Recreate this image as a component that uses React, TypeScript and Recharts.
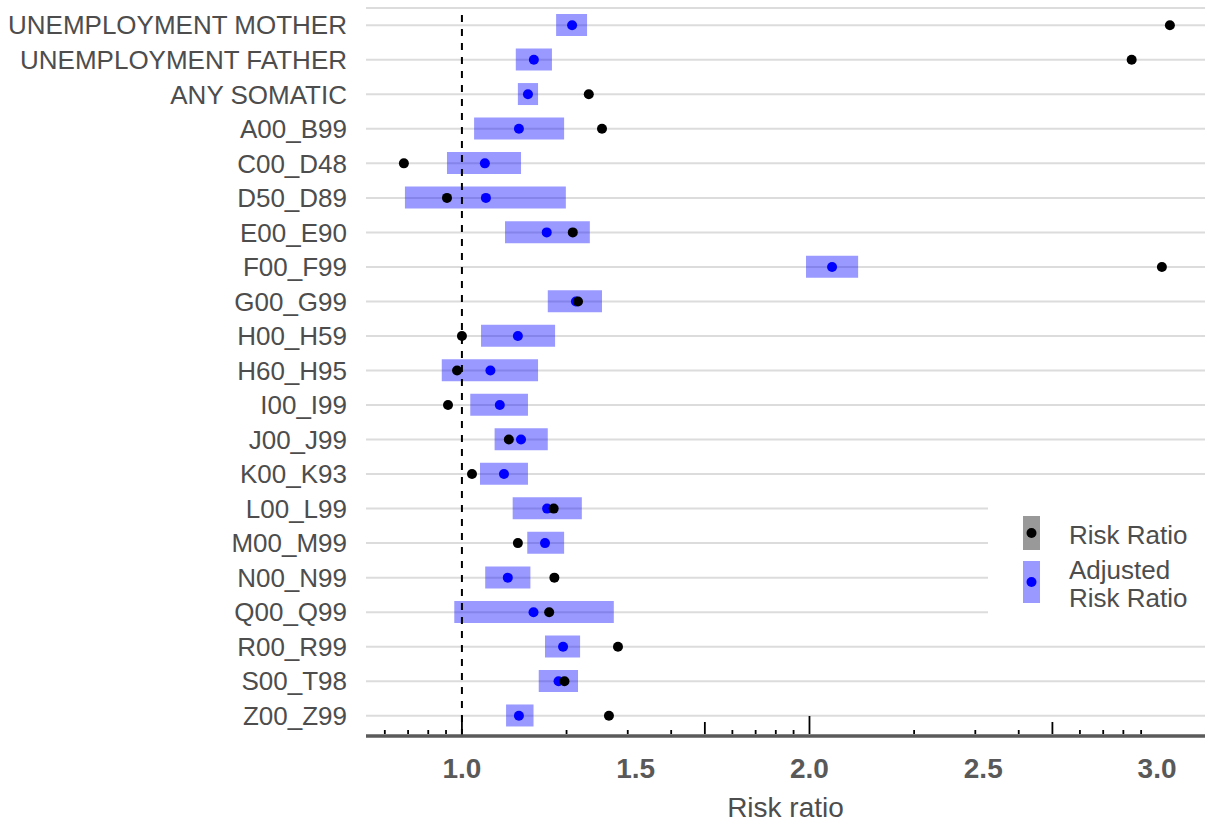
import { Bar, CartesianGrid, ComposedChart, Legend, Line, ReferenceLine, XAxis, YAxis } from "recharts";

const FONT = "'Liberation Sans', Arial, sans-serif";
const TEXT = "#4d4d4d";

const categories = [
  "UNEMPLOYMENT MOTHER",
  "UNEMPLOYMENT FATHER",
  "ANY SOMATIC",
  "A00_B99",
  "C00_D48",
  "D50_D89",
  "E00_E90",
  "F00_F99",
  "G00_G99",
  "H00_H59",
  "H60_H95",
  "I00_I99",
  "J00_J99",
  "K00_K93",
  "L00_L99",
  "M00_M99",
  "N00_N99",
  "Q00_Q99",
  "R00_R99",
  "S00_T98",
  "Z00_Z99",
];

// crude risk ratio (black points)
const riskRatio = [
  3.037, 2.927, 1.365, 1.403, 0.833, 0.957, 1.319, 3.014, 1.334, 1.0, 0.986,
  0.96, 1.135, 1.029, 1.264, 1.161, 1.266, 1.251, 1.449, 1.295, 1.423,
];

// adjusted risk ratio (blue points) with interval
const adjusted = [
  1.317, 1.207, 1.19, 1.164, 1.066, 1.069, 1.244, 2.065, 1.328, 1.161, 1.082,
  1.109, 1.17, 1.121, 1.245, 1.239, 1.132, 1.206, 1.291, 1.278, 1.164,
];
const adjLower = [
  1.271, 1.155, 1.161, 1.035, 0.957, 0.836, 1.124, 1.99, 1.247, 1.055, 0.942,
  1.024, 1.094, 1.052, 1.146, 1.188, 1.067, 0.978, 1.239, 1.221, 1.127,
];
const adjUpper = [
  1.36, 1.259, 1.219, 1.294, 1.17, 1.299, 1.368, 2.14, 1.403, 1.268, 1.219,
  1.19, 1.247, 1.19, 1.345, 1.294, 1.197, 1.437, 1.34, 1.334, 1.206,
];

const xLabels = [1.0, 1.5, 2.0, 2.5, 3.0];
// annotation_logticks style marks (log10 positions read as linear values)
const logMultipliers = [2, 3, 4, 5, 6, 7, 8, 9];
const X_DOMAIN: [number, number] = [0.724, 3.138];

const logTicks: number[] = [];
for (const decade of [0, 1, 2]) {
  logTicks.push(decade);
  for (const m of logMultipliers) logTicks.push(decade + Math.log10(m));
}
const logTicksInRange = logTicks.filter((v) => v >= X_DOMAIN[0] && v <= X_DOMAIN[1]);
const allTicks = Array.from(new Set([...xLabels, ...logTicksInRange])).sort((a, b) => a - b);

const rows = categories.map((name, i) => ({
  name,
  rr: riskRatio[i],
  adj: adjusted[i],
  ci: [adjLower[i], adjUpper[i]],
}));

function XTick(props: any) {
  const { x, y, payload } = props;
  const v: number = payload.value;
  const isLabel = xLabels.some((l) => Math.abs(l - v) < 1e-9);
  const logHit = logTicksInRange.find((l) => Math.abs(l - v) < 1e-9);
  let len = 0;
  if (logHit !== undefined) {
    const frac = Math.round((logHit % 1) * 1000) / 1000;
    if (frac === 0) len = 18;
    else if (Math.abs(frac - Math.log10(5)) < 0.001) len = 12;
    else len = 4;
  }
  return (
    <g>
      {len > 0 && <line x1={x} x2={x} y1={y - 2} y2={y - 2 - len} stroke="#000" strokeWidth={1.8} />}
      {isLabel && (
        <text x={x} y={y + 42} textAnchor="middle" fontSize={28} fontWeight="bold" fill="#595959" fontFamily={FONT}>
          {v.toFixed(1)}
        </text>
      )}
    </g>
  );
}

function LegendBox() {
  return (
    <svg width={217} height={136} style={{ background: "#fff", display: "block" }}>
      <rect x={35} y={24} width={17} height={34} fill="#999999" />
      <circle cx={43.5} cy={41} r={5} fill="#000" />
      <rect x={35} y={69} width={17} height={42} fill="#0000ff" fillOpacity={0.4} />
      <circle cx={43.5} cy={90} r={5} fill="#0000ff" />
      <g fontFamily={FONT} fontSize={26} fill={TEXT}>
        <text x={81} y={43} dominantBaseline="central">Risk Ratio</text>
        <text x={81} y={78} dominantBaseline="central">Adjusted</text>
        <text x={81} y={106} dominantBaseline="central">Risk Ratio</text>
      </g>
    </svg>
  );
}

export default function App() {
  return (
    <div style={{ position: "absolute", left: 0, top: 0, background: "#fff" }}>
      <ComposedChart
        width={1205}
        height={823}
        data={rows}
        layout="vertical"
        margin={{ top: 8, right: 0, bottom: 0, left: 0 }}
      >
        <CartesianGrid stroke="#dcdcdc" strokeWidth={2} vertical={false} />
        <XAxis
          type="number"
          domain={X_DOMAIN}
          allowDataOverflow
          ticks={allTicks}
          interval={0}
          height={87}
          tickLine={false}
          tickSize={0}
          tickMargin={0}
          axisLine={{ stroke: "#5a5a5a", strokeWidth: 3.5 }}
          tick={<XTick />}
          label={{
            value: "Risk ratio",
            position: "insideBottom",
            offset: 6,
            fontSize: 28,
            fill: TEXT,
            fontFamily: FONT,
          }}
        />
        <YAxis
          type="category"
          dataKey="name"
          width={366}
          interval={0}
          tickLine={false}
          axisLine={false}
          tickSize={0}
          tickMargin={19}
          padding={{ top: 0, bottom: 3 }}
          tick={{ fill: TEXT, fontSize: 26, fontFamily: FONT }}
        />
        <ReferenceLine x={1} stroke="#000" strokeWidth={2} strokeDasharray="7 7" />
        <Line
          dataKey="rr"
          stroke="none"
          dot={{ r: 5, fill: "#000", stroke: "none" }}
          activeDot={false}
          isAnimationActive={false}
          {...({ zIndex: 250 } as any)}
        />
        <Bar dataKey="ci" barSize={22} fill="#0000ff" fillOpacity={0.4} isAnimationActive={false} />
        <Line
          dataKey="adj"
          stroke="none"
          dot={{ r: 5, fill: "#0000ff", stroke: "none" }}
          activeDot={false}
          isAnimationActive={false}
        />
        <Legend
          layout="horizontal"
          verticalAlign="middle"
          align="center"
          content={() => <LegendBox />}
          wrapperStyle={{ position: "absolute", left: 988, top: 492, width: 217, height: 136 }}
        />
      </ComposedChart>
    </div>
  );
}
